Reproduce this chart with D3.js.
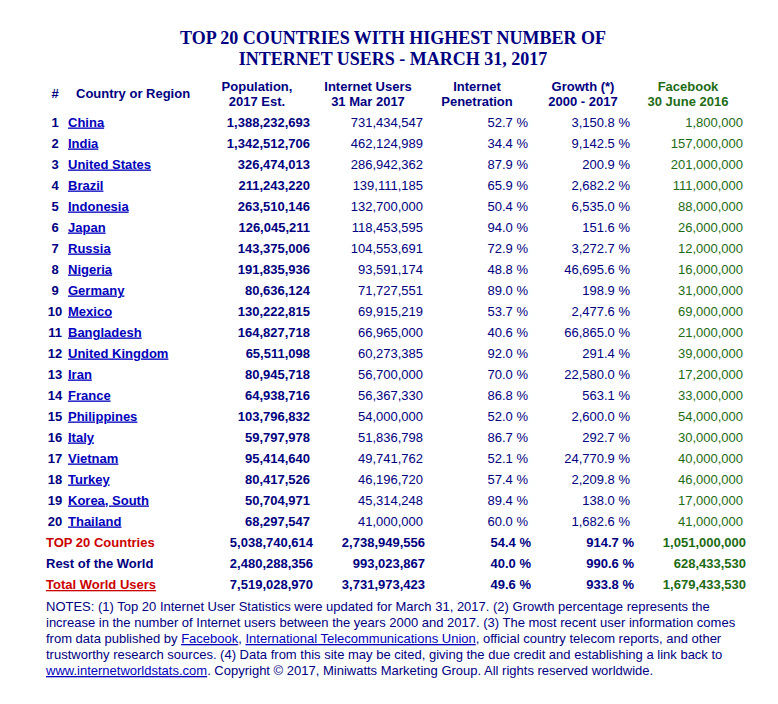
<!DOCTYPE html>
<html>
<head>
<meta charset="utf-8">
<script src="https://cdn.jsdelivr.net/npm/d3@7"></script>
<style>
  body { margin: 0; background: #fff; }
  svg text { font-family: Arial, "Liberation Sans", sans-serif; font-size: 13px; }
</style>
</head>
<body>
<div id="chart"></div>
<script>
let countries = ["China","India","United States","Brazil","Indonesia","Japan","Russia","Nigeria","Germany","Mexico",
  "Bangladesh","United Kingdom","Iran","France","Philippines","Italy","Vietnam","Turkey","Korea, South","Thailand"];
let population = [1388232693,1342512706,326474013,211243220,263510146,126045211,143375006,191835936,80636124,130222815,
  164827718,65511098,80945718,64938716,103796832,59797978,95414640,80417526,50704971,68297547];
let users = [731434547,462124989,286942362,139111185,132700000,118453595,104553691,93591174,71727551,69915219,
  66965000,60273385,56700000,56367330,54000000,51836798,49741762,46196720,45314248,41000000];
let penetration = [52.7,34.4,87.9,65.9,50.4,94.0,72.9,48.8,89.0,53.7,40.6,92.0,70.0,86.8,52.0,86.7,52.1,57.4,89.4,60.0];
let growth = [3150.8,9142.5,200.9,2682.2,6535.0,151.6,3272.7,46695.6,198.9,2477.6,66865.0,291.4,22580.0,563.1,2600.0,292.7,24770.9,2209.8,138.0,1682.6];
let facebook = [1800000,157000000,201000000,111000000,88000000,26000000,12000000,16000000,31000000,69000000,
  21000000,39000000,17200000,33000000,54000000,30000000,40000000,46000000,17000000,41000000];

let totalLabels = ["TOP 20 Countries","Rest of the World","Total World Users"];
let totalPopulation = [5038740614,2480288356,7519028970];
let totalUsers = [2738949556,993023867,3731973423];
let totalPenetration = [54.4,40.0,49.6];
let totalGrowth = [914.7,990.6,933.8];
let totalFacebook = [1051000000,628433530,1679433530];

let titleLines = ["TOP 20 COUNTRIES WITH HIGHEST NUMBER OF","INTERNET USERS - MARCH 31, 2017"];
let headers = [["Population,","2017 Est."],["Internet Users","31 Mar 2017"],["Internet","Penetration"],["Growth (*)","2000 - 2017"],["Facebook","30 June 2016"]];

let navy = "#000080", link = "#0000bb", green = "#1e6b14", red = "#cc0000";

let width = 778, height = 704;
let svg = d3.select("#chart").append("svg")
  .attr("width", width).attr("height", height);
svg.append("rect").attr("width", width).attr("height", height).attr("fill", "#fff");

// title
svg.selectAll("text.title").data(titleLines).enter().append("text")
  .attr("x", 393).attr("y", (d,i) => 44 + i*21)
  .attr("text-anchor", "middle")
  .style("font-family", "'Liberation Serif','Times New Roman',serif")
  .style("font-size", "18px").style("font-weight", "bold")
  .attr("fill", navy).text(d => d);

// columns (right edges for numbers, centres for headers)
let numCols = [
  {vals: population, fmt: d3.format(","), x: 310, bold: true, color: navy},
  {vals: users, fmt: d3.format(","), x: 423, color: navy},
  {vals: penetration, fmt: d => d3.format(".1f")(d) + " %", x: 528, color: navy},
  {vals: growth, fmt: d => d3.format(",.1f")(d) + " %", x: 630, color: navy},
  {vals: facebook, fmt: d3.format(","), x: 743, color: green}
];
let headCenters = [257, 368, 477, 583, 688];

let head = svg.append("g").style("font-weight", "bold");
head.append("text").attr("x", 55).attr("y", 98).attr("text-anchor", "middle").attr("fill", navy).text("#");
head.append("text").attr("x", 76).attr("y", 98).attr("fill", navy).text("Country or Region");
headers.forEach((h, c) => {
  head.selectAll(null).data(h).enter().append("text")
    .attr("x", headCenters[c]).attr("y", (d,i) => 91 + i*15)
    .attr("text-anchor", "middle")
    .attr("fill", c == 4 ? green : navy)
    .text(d => d);
});

// rows
let y = d3.scaleBand().domain(countries).range([110, 110 + 21*countries.length]);
let base = d => y(d) + 16.5;

let rows = svg.selectAll("g.row").data(countries).enter().append("g").attr("class", "row");
rows.append("text").attr("x", 55).attr("y", base).attr("text-anchor", "middle")
  .style("font-weight", "bold").attr("fill", navy).text((d,i) => i + 1);
rows.append("text").attr("x", 68).attr("y", base)
  .style("font-weight", "bold").style("text-decoration", "underline")
  .attr("fill", link).text(d => d);
numCols.forEach(col => {
  rows.append("text").attr("x", col.x).attr("y", base).attr("text-anchor", "end")
    .style("font-weight", col.bold ? "bold" : "normal")
    .attr("fill", col.color).text((d,i) => col.fmt(col.vals[i]));
});

// totals
let yt = d3.scaleBand().domain(totalLabels).range([531, 531 + 21*3]);
let totCols = [
  {vals: totalPopulation, fmt: d3.format(","), x: 313, color: navy},
  {vals: totalUsers, fmt: d3.format(","), x: 425, color: navy},
  {vals: totalPenetration, fmt: d => d3.format(".1f")(d) + " %", x: 531, color: navy},
  {vals: totalGrowth, fmt: d => d3.format(",.1f")(d) + " %", x: 634, color: navy},
  {vals: totalFacebook, fmt: d3.format(","), x: 746, color: green}
];
let tot = svg.selectAll("g.tot").data(totalLabels).enter().append("g").attr("class", "tot")
  .style("font-weight", "bold");
tot.append("text").attr("x", 46).attr("y", d => yt(d) + 16)
  .attr("fill", (d,i) => i == 1 ? navy : red)
  .style("text-decoration", (d,i) => i == 2 ? "underline" : "none")
  .text(d => d);
totCols.forEach(col => {
  tot.append("text").attr("x", col.x).attr("y", d => yt(d) + 16).attr("text-anchor", "end")
    .attr("fill", col.color).text((d,i) => col.fmt(col.vals[i]));
});

// notes, lines broken as in the source
let notes = [
  [["NOTES: (1) Top 20 Internet User Statistics were updated for March 31, 2017. (2) Growth percentage represents the"]],
  [["increase in the number of Internet users between the years 2000 and 2017. (3) The most recent user information comes"]],
  [["from data published by "],["Facebook",1],[", "],["International Telecommunications Union",1],[", official country telecom reports, and other"]],
  [["trustworthy research sources. (4) Data from this site may be cited, giving the due credit and establishing a link back to"]],
  [["www.internetworldstats.com",1],[". Copyright © 2017, Miniwatts Marketing Group. All rights reserved worldwide."]]
];
notes.forEach((line, i) => {
  let t = svg.append("text").attr("x", 46).attr("y", 611 + i*16).attr("fill", navy);
  line.forEach(p => {
    let s = t.append("tspan").text(p[0]);
    if (p[1]) s.attr("fill", link).style("text-decoration", "underline");
  });
});
</script>
</body>
</html>
